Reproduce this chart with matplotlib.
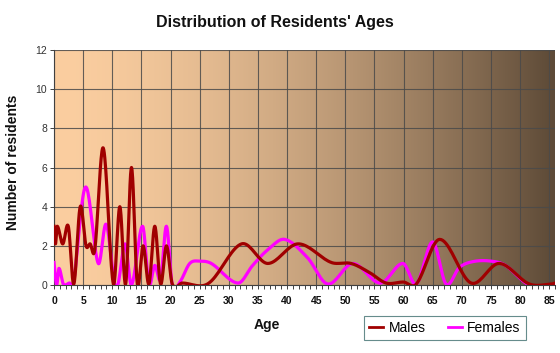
import numpy as np
import matplotlib
matplotlib.use('Agg')
import matplotlib.pyplot as plt
from matplotlib.ticker import MultipleLocator

plt.rcParams['font.family'] = ['Liberation Sans', 'DejaVu Sans']

# points (age, residents)
male_ages = [0, 0.25, 0.55, 1.5, 2.45, 3.4, 4.5, 5.5, 6.2, 7.0, 8.45, 10.2, 11.3, 12.3,
             13.3, 14.3, 15.3, 16.3, 17.3, 18.3, 19.3, 20.3, 22, 26.5, 32.2, 36.7, 41.9,
             47.6, 51, 54.2, 57, 60, 62.2, 66.2, 71.6, 76.4, 81.6, 85.5, 86]
male_vals = [3.0, 2.1, 3.0, 2.1, 3.0, 0.05, 4.0, 2.0, 2.1, 1.8, 7.0, 0.05, 4.0, 0.05,
             6.0, 0.05, 2.0, 0.05, 3.0, 0.05, 2.0, 0.05, 0.1, 0.08, 2.1, 1.1, 2.1,
             1.15, 1.1, 0.63, 0.1, 0.15, 0.05, 2.33, 0.1, 1.1, 0.05, 0.05, 0.1]

female_ages = [0, 0.45, 0.85, 1.6, 2.7, 3.3, 5.4, 7.6, 8.95, 10.4, 11.0, 12.2, 13.3, 15.2,
               16.3, 17.3, 18.3, 19.3, 20.3, 21.6, 23.3, 25, 27, 31.6, 34.1, 36.7, 39.6,
               43.5, 47, 51.3, 56, 59.9, 62.2, 65, 67.3, 69.6, 72, 75, 77.5, 81.6, 86]
female_vals = [1.15, 0.0, 0.85, 0.05, 0.1, 0.0, 5.0, 1.1, 3.1, 0.05, 0.05, 2.1, 0.0, 3.0,
               0.05, 1.0, 0.3, 3.0, 0.0, 0.15, 1.1, 1.22, 1.1, 0.1, 1.0, 1.8, 2.33,
               1.4, 0.05, 1.1, 0.1, 1.1, 0.05, 2.2, 0.05, 0.9, 1.2, 1.22, 1.0, 0.0, 0.0]

x_ticks = list(range(0, 90, 5))
y_ticks = list(range(0, 14, 2))


def smooth(xs, ys, n=20):
    # cubic hermite through the points, catmull-rom style tangents
    xs = np.asarray(xs, float)
    ys = np.asarray(ys, float)
    m = np.zeros_like(ys)
    m[1:-1] = (ys[2:] - ys[:-2]) / (xs[2:] - xs[:-2])
    m[0] = (ys[1] - ys[0]) / (xs[1] - xs[0])
    m[-1] = (ys[-1] - ys[-2]) / (xs[-1] - xs[-2])
    out_x, out_y = [], []
    for i in range(len(xs) - 1):
        h = xs[i + 1] - xs[i]
        t = np.linspace(0, 1, n, endpoint=False)
        h00 = 2 * t**3 - 3 * t**2 + 1
        h10 = t**3 - 2 * t**2 + t
        h01 = -2 * t**3 + 3 * t**2
        h11 = t**3 - t**2
        out_x.append(xs[i] + t * h)
        out_y.append(h00 * ys[i] + h10 * h * m[i] + h01 * ys[i + 1] + h11 * h * m[i + 1])
    out_x.append([xs[-1]])
    out_y.append([ys[-1]])
    return np.concatenate(out_x), np.concatenate(out_y)


fig = plt.figure(figsize=(5.6, 3.53), dpi=100)
ax = fig.add_axes([54 / 560, 1 - 285 / 353, 501 / 560, 235 / 353])

xmax = 86
# horizontal background gradient
left = np.array([251, 206, 160]) / 255
right = np.array([93, 74, 55]) / 255
t = np.linspace(0, 1, 300) ** 1.6
grad = left[None, :] * (1 - t[:, None]) + right[None, :] * t[:, None]
ax.imshow(grad[None, :, :], extent=[0, xmax, 0, 12], aspect='auto', zorder=0)

ax.set_xlim(0, xmax)
ax.set_ylim(0, 12)
ax.xaxis.set_minor_locator(MultipleLocator(1))
ax.set_xticks(x_ticks)
ax.set_yticks(y_ticks)
ax.grid(True, which='major', color='#4a4a4a', lw=0.8, alpha=0.85, zorder=1)

mx, my = smooth(male_ages, male_vals)
fx, fy = smooth(female_ages, female_vals)
ax.plot(mx, my, color='#a00000', lw=2.3, label='Males', zorder=4)
ax.plot(fx, fy, color='#ff00ff', lw=2.3, label='Females', zorder=3)

for s in ['top', 'right']:
    ax.spines[s].set_visible(False)
for s in ['left', 'bottom']:
    ax.spines[s].set_color('#404040')
    ax.spines[s].set_linewidth(0.8)
ax.tick_params(axis='both', which='both', length=3, width=0.7, color='#404040',
               labelsize=7.5, labelcolor='#333333', pad=2)
ax.tick_params(axis='x', labelsize=7.5, pad=5, labelcolor='#111111')
for lab in ax.get_xticklabels():
    lab.set_fontweight('bold')

fig.text(0.49, 1 - 23 / 353, "Distribution of Residents' Ages", ha='center', va='center',
         fontsize=11.5, fontweight='bold', color='#111111')
fig.text(267 / 560, 1 - 325 / 353, 'Age', ha='center', va='center',
         fontsize=10, fontweight='bold', color='#111111')
fig.text(13 / 560, 1 - 162 / 353, 'Number of residents', ha='center', va='center',
         rotation=90, fontsize=10, fontweight='bold', color='#111111')

leg = ax.legend(loc='center', bbox_to_anchor=(445 / 560, 1 - 328 / 353),
                bbox_transform=fig.transFigure, ncol=2, frameon=True, fancybox=False,
                fontsize=10, handlelength=1.0, handletextpad=0.4, columnspacing=1.6,
                borderpad=0.35)
leg.get_frame().set_edgecolor('#407070')
leg.get_frame().set_linewidth(0.8)
for line in leg.get_lines():
    line.set_linewidth(2)

fig.savefig('out.png', dpi=100)
